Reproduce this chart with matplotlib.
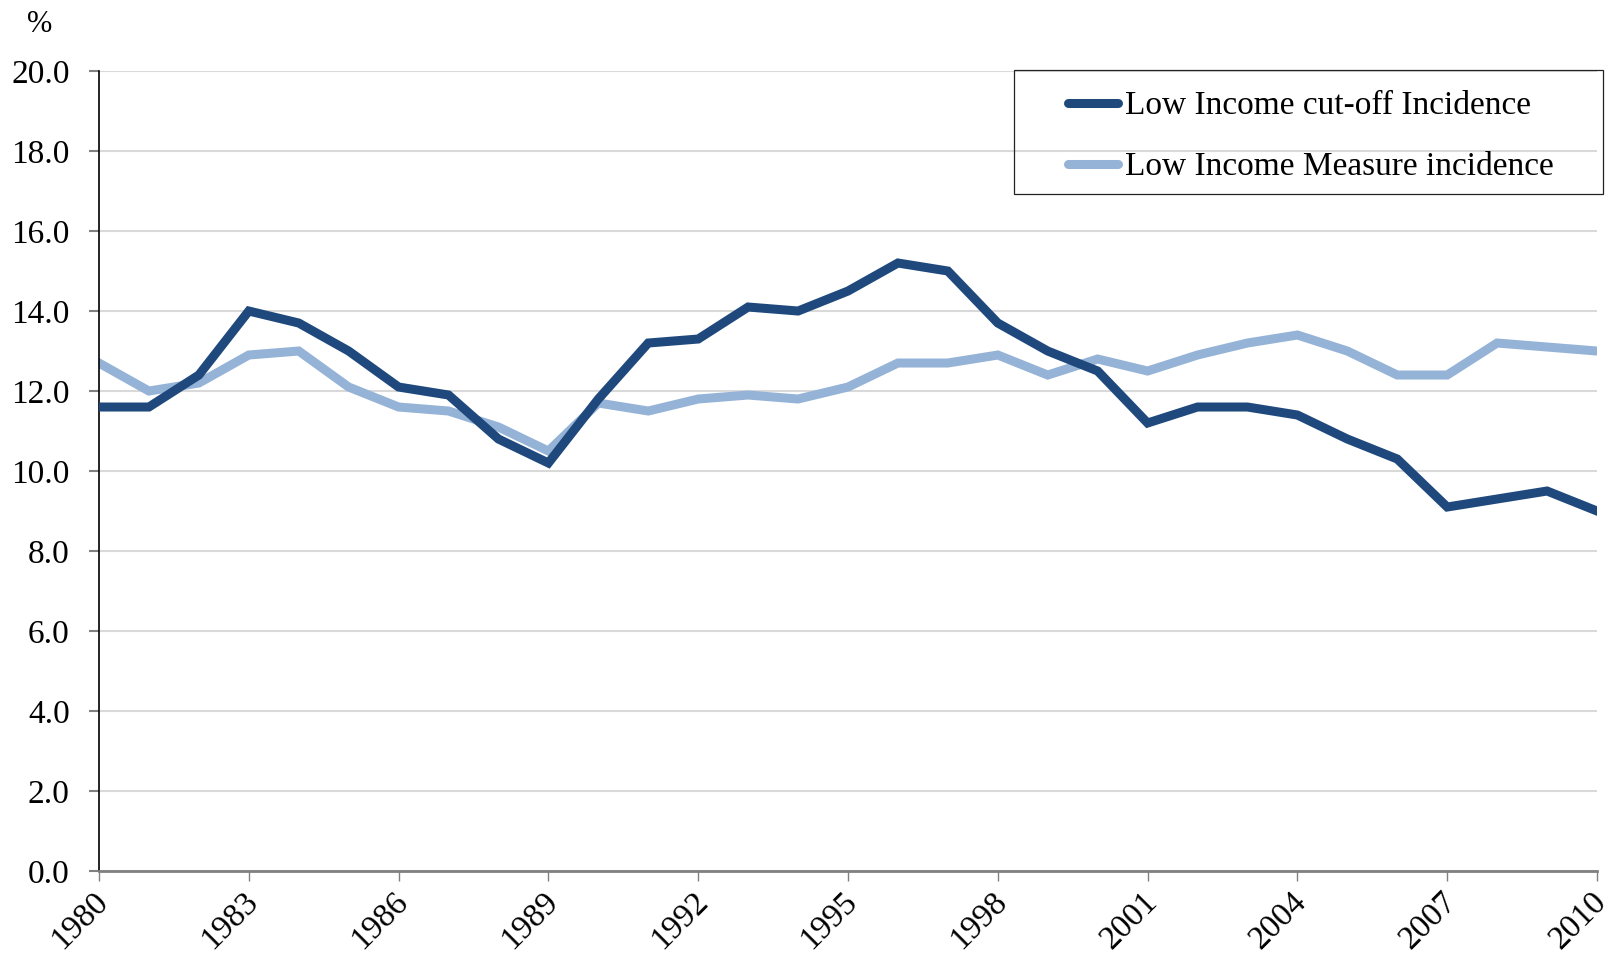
import numpy as np
import matplotlib
matplotlib.use("Agg")
import matplotlib.pyplot as plt
from matplotlib.patches import Rectangle
from matplotlib.transforms import ScaledTranslation

plt.rcParams['font.family'] = ['Liberation Serif', 'DejaVu Serif']

years = list(range(1980, 2011))
lico = [11.6, 11.6, 12.4, 14.0, 13.7, 13.0, 12.1, 11.9, 10.8, 10.2,
        11.8, 13.2, 13.3, 14.1, 14.0, 14.5, 15.2, 15.0, 13.7, 13.0,
        12.5, 11.2, 11.6, 11.6, 11.4, 10.8, 10.3, 9.1, 9.3, 9.5, 9.0]
lim = [12.7, 12.0, 12.2, 12.9, 13.0, 12.1, 11.6, 11.5, 11.1, 10.5,
       11.7, 11.5, 11.8, 11.9, 11.8, 12.1, 12.7, 12.7, 12.9, 12.4,
       12.8, 12.5, 12.9, 13.2, 13.4, 13.0, 12.4, 12.4, 13.2, 13.1, 13.0]
x_ticks = list(range(1980, 2011, 3))
y_ticks = np.arange(0, 20.1, 2)

fig = plt.figure(figsize=(16.2, 9.65), dpi=100)
ax = fig.add_axes([0.0611, 0.0974, 0.9247, 0.829])

ax.plot(years, lico, color='#1F497D', lw=6.5, solid_joinstyle='miter',
        label='Low Income cut-off Incidence', zorder=3)
ax.plot(years, lim, color='#95B3D7', lw=6.5, solid_joinstyle='miter',
        label='Low Income Measure incidence', zorder=2)

ax.set_xlim(1980, 2010)
ax.set_ylim(0, 20)
ax.set_yticks(y_ticks)
ax.set_yticklabels(['%.1f' % v for v in y_ticks], fontsize=24)
ax.set_xticks(x_ticks)
ax.set_xticklabels([str(y) for y in x_ticks], fontsize=24, rotation=45,
                   ha='right', rotation_mode='anchor')
ax.tick_params(axis='x', direction='out', length=7, width=1, color='#808080', pad=4)
ax.tick_params(axis='y', direction='out', length=7, width=1.5, color='#808080', pad=14)
shift = ScaledTranslation(-6 / 100, 0, fig.dpi_scale_trans)
for lab in ax.get_xticklabels():
    lab.set_transform(lab.get_transform() + shift)

ax.grid(axis='y', color='#D9D9D9', lw=1.5, zorder=0)
ax.set_axisbelow(True)
for s in ['top', 'right']:
    ax.spines[s].set_visible(False)
ax.spines['left'].set_color('black')
ax.spines['left'].set_linewidth(1.2)
ax.spines['bottom'].set_color('#808080')
ax.spines['bottom'].set_linewidth(2)

fig.text(0.0167, 0.9896, '%', fontsize=22, ha='left', va='top')

# legend box
fig.patches.append(Rectangle((0.6259, 0.799), 0.3636, 0.1285, transform=fig.transFigure,
                             fill=False, edgecolor='#222222', lw=0.9))
leg = ax.legend(loc='center left', bbox_to_anchor=(0.6593, 0.8584),
                bbox_transform=fig.transFigure, fontsize=24, frameon=False,
                handlelength=1.5, handletextpad=0.2, borderpad=0,
                labelspacing=0.92, borderaxespad=0)
for line in leg.get_lines():
    line.set_solid_capstyle('round')

fig.savefig('out.png', dpi=100)
